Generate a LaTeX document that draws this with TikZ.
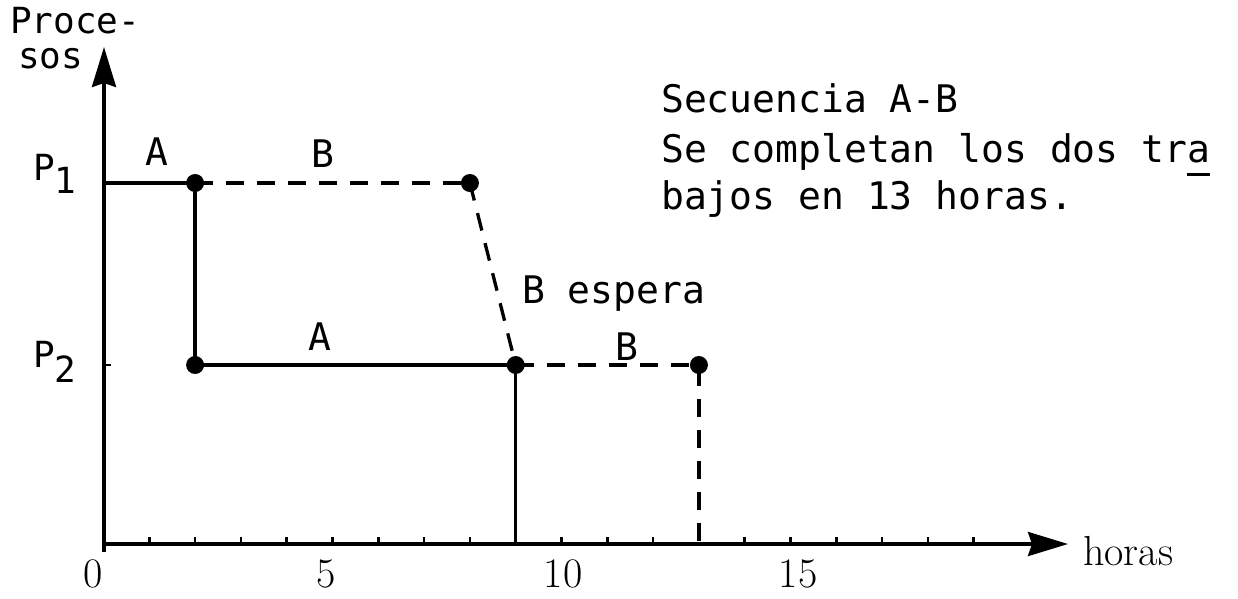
\documentclass[tikz,border=0pt]{standalone}
\usepackage{fontspec}
\newfontfamily\twfont{DejaVu Sans Mono}
\usetikzlibrary{arrows.meta}
\begin{document}
\begin{tikzpicture}[x=1pt,y=-1pt,
  ln/.style={line width=3.3pt},
  dsh/.style={line width=3.3pt,dash pattern=on 18pt off 13pt},
  dot/.style={circle,fill=black,inner sep=0pt,minimum size=18pt},
  tw/.style={font=\twfont\fontsize{38}{46}\selectfont,inner sep=0pt},
  twp/.style={font=\twfont\fontsize{36}{40}\selectfont,inner sep=0pt},
  num/.style={font=\fontsize{42}{48}\selectfont,inner sep=0pt},
  axisarrow/.style={line width=3.5pt,-{Stealth[length=40pt,width=24pt,inset=4pt]}}]
\useasboundingbox (0,0) rectangle (1238,598);
% axes
\coordinate (O) at (104,544);
\coordinate (Ob) at (104,552);
\coordinate (ytop) at (104,47);
\coordinate (xend) at (1068,544);
\draw[axisarrow] (Ob) -- (ytop);
\draw[axisarrow] (102,544) -- (xend);
\foreach \h in {1,...,8,10,11,12,14,15,16,17,18,19}
  \draw[line width=2.5pt] (103.5+45.8*\h,544) -- ++(0,-7);
\coordinate (p1) at (104,183);
\coordinate (p2) at (104,365);
\draw[line width=2.5pt] (p2) -- ++(7,0);
% points
\coordinate (a1) at (195.1,183);
\coordinate (b1) at (469.9,183);
\coordinate (a2) at (195.1,365);
\coordinate (c2) at (515.7,365);
\coordinate (d2) at (698.9,365);
\coordinate (f9) at (515.7,544);
\coordinate (f13) at (698.9,544);
\draw[ln] (p1) -- (a1);
\draw[dsh] (a1) -- (b1);
\draw[ln] (a1) -- (a2) -- (c2) -- (f9);
\draw[dsh] (b1) -- (c2);
\draw[dsh] (c2) -- (d2) -- (f13);
\node[dot] (na1) at (a1) {};
\node[dot] (nb1) at (b1) {};
\node[dot] (na2) at (a2) {};
\node[dot] (nc2) at (c2) {};
\node[dot] (nd2) at (d2) {};
% labels
\node[twp,anchor=base west] (lproc) at (10,33) {Proce-};
\node[twp,anchor=base west] (lsos) at (18,68) {sos};
\node[twp,anchor=base west] (lp1) at (33,180) {P\raisebox{-13pt}{1}};
\node[twp,anchor=base west] (lp2) at (33,367) {P\raisebox{-15pt}{2}};
\node[tw,anchor=base] (lA1) at (157,165) {A};
\node[tw,anchor=base] (lB1) at (323,167) {B};
\node[tw,anchor=base] (lA2) at (320,350) {A};
\node[tw,anchor=base] (lB2) at (627,360) {B};
\node[tw,anchor=base west] (lesp) at (522,303) {B espera};
\node[tw,anchor=base west] (t1) at (661,112) {Secuencia A-B};
\node[tw,anchor=base west] (t2) at (661,162) {Se completan los dos tr{\rlap{\raisebox{-14pt}{\rule{23pt}{3pt}}}a}};
\node[tw,anchor=base west] (t3) at (661,209) {bajos en 13 horas.};
\node[num,anchor=base] (n0) at (93,587) {0};
\node[num,anchor=base] (n5) at (326,587) {5};
\node[num,anchor=base] (n10) at (563,587) {10};
\node[num,anchor=base] (n15) at (798,587) {15};
\node[num,anchor=base west] (lhoras) at (1083,565) {horas};
\end{tikzpicture}
\end{document}
